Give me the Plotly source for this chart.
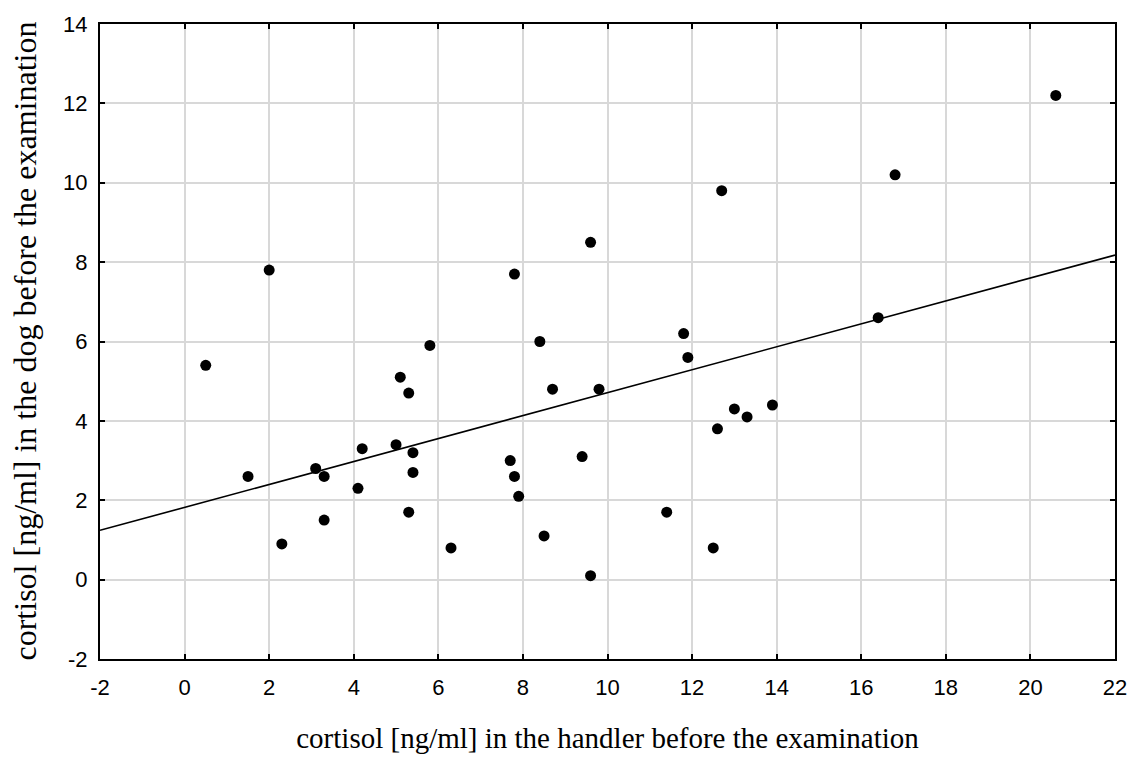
import plotly.graph_objects as go

handler_cortisol = [0.5, 1.5, 2.0, 2.3, 3.1, 3.3, 3.3, 4.1, 4.2, 5.0, 5.1, 5.3, 5.4, 5.4, 5.3,
                    5.8, 6.3, 7.7, 7.8, 7.9, 7.8, 8.4, 8.5, 8.7, 9.4, 9.6, 9.6, 9.8, 11.4,
                    11.8, 11.9, 12.5, 12.6, 12.7, 13.0, 13.3, 13.9, 16.4, 16.8, 20.6]
dog_cortisol = [5.4, 2.6, 7.8, 0.9, 2.8, 2.6, 1.5, 2.3, 3.3, 3.4, 5.1, 4.7, 3.2, 2.7, 1.7,
                5.9, 0.8, 3.0, 2.6, 2.1, 7.7, 6.0, 1.1, 4.8, 3.1, 8.5, 0.1, 4.8, 1.7,
                6.2, 5.6, 0.8, 3.8, 9.8, 4.3, 4.1, 4.4, 6.6, 10.2, 12.2]

x_range = [-2, 22]
y_range = [-2, 14]
x_ticks = list(range(-2, 23, 2))
y_ticks = list(range(-2, 15, 2))
x_title = "cortisol [ng/ml] in the handler before the examination"
y_title = "cortisol [ng/ml] in the dog before the examination"

# regression line
fit_intercept = 1.82
fit_slope = 0.289
line_x = x_range
line_y = [fit_intercept + fit_slope * v for v in line_x]

fig = go.Figure()
fig.add_trace(go.Scatter(x=line_x, y=line_y, mode="lines",
                         line=dict(color="black", width=1.6), showlegend=False))
fig.add_trace(go.Scatter(x=handler_cortisol, y=dog_cortisol, mode="markers",
                         marker=dict(color="black", size=11, line=dict(width=0)),
                         showlegend=False))

axis_common = dict(showline=True, linecolor="black", linewidth=2, mirror="ticks",
                   ticks="inside", ticklen=5, tickcolor="black", tickwidth=1.5,
                   showgrid=True, gridcolor="#d8d8d8", gridwidth=1.5, zeroline=False,
                   automargin=False,
                   tickfont=dict(family="Liberation Sans, Arial", size=22, color="black"))
serif = "Liberation Serif, Times New Roman"

fig.update_xaxes(range=x_range, tickvals=x_ticks, ticktext=[str(t) for t in x_ticks],
                 ticklabelstandoff=8,
                 title=dict(text=x_title,
                            font=dict(family=serif, size=29, color="black"), standoff=28),
                 **axis_common)
fig.update_yaxes(range=y_range, tickvals=y_ticks, ticktext=[str(t) for t in y_ticks],
                 ticklabelstandoff=6,
                 **axis_common)

fig.add_annotation(text=y_title, xref="paper", yref="paper", x=0, y=0.5,
                   xshift=-76, xanchor="center", yanchor="middle", textangle=-90,
                   showarrow=False, font=dict(family=serif, size=32, color="black"))

fig.update_layout(width=1135, height=758, plot_bgcolor="white", paper_bgcolor="white",
                  margin=dict(l=100, r=20, t=24, b=99))

fig.write_html("out.html", config={"displayModeBar": False},
               post_script="document.body.style.margin='0';document.body.style.overflow='hidden';")
